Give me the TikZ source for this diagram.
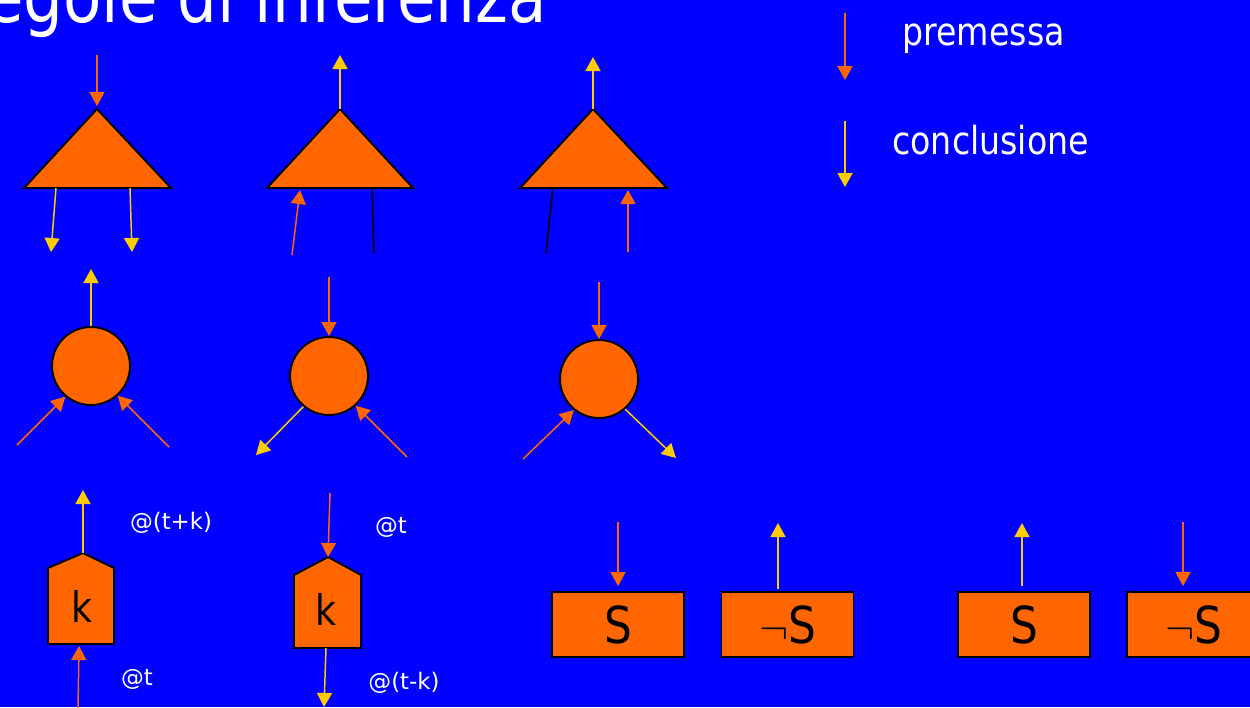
\documentclass[tikz,border=0pt]{standalone}
\usepackage{fontspec}
\usetikzlibrary{arrows.meta}
\newfontfamily\tah[FakeStretch=0.86]{DejaVu Sans}
\newfontfamily\djv{DejaVu Sans}
\definecolor{bg}{HTML}{0000FF}
\definecolor{org}{HTML}{FF6600}
\definecolor{yel}{HTML}{FFCC00}
\begin{document}
\begin{tikzpicture}[x=0.02cm,y=-0.02cm,
  prem/.style={draw=org, line width=0.85pt, -{Triangle[width=0.3cm,length=0.28cm]}, fill=org},
  concl/.style={draw=yel, line width=0.85pt, -{Triangle[width=0.3cm,length=0.28cm]}, fill=yel},
  blk/.style={draw=black, line width=0.9pt},
  shp/.style={fill=org, draw=black, line width=1.1pt, line join=miter},
  circ/.style={shp, circle, minimum size=1.56cm, inner sep=0pt},
  sbox/.style={shp, rectangle, minimum width=2.64cm, minimum height=1.3cm, inner sep=0pt, font=\tah\fontsize{29pt}{30pt}\selectfont, text=black},
  klab/.style={inner sep=0pt, font=\tah\fontsize{24pt}{25pt}\selectfont, text=black},
  lgd/.style={inner sep=0pt, text=white, font=\tah\fontsize{22pt}{24pt}\selectfont},
  small/.style={inner sep=0pt, text=white, font=\djv\fontsize{13pt}{14pt}\selectfont}]
\useasboundingbox (0,0) rectangle (1250,707);
\clip (0,0) rectangle (1250,707);
\fill[bg] (0,0) rectangle (1250,707);

% title
\node[inner sep=0pt, anchor=base east, text=white, font=\tah\fontsize{41.5pt}{43pt}\selectfont] (title) at (547,22) {Regole di inferenza};

% legend
\coordinate (lp1) at (845,13); \coordinate (lp2) at (845,80);
\draw[prem] (lp1) -- (lp2);
\node[lgd, anchor=base west] (tprem) at (902,45) {premessa};
\coordinate (lc1) at (845,121); \coordinate (lc2) at (845,187);
\draw[concl] (lc1) -- (lc2);
\node[lgd, anchor=base west] (tconc) at (892,154) {conclusione};

% triangle 1
\coordinate (t1l) at (24,188); \coordinate (t1r) at (171,188); \coordinate (t1a) at (97,109);
\draw[shp] (t1l) -- (t1r) -- (t1a) -- cycle;
\coordinate (t1in) at (97,55); \coordinate (t1tip) at (97,106);
\draw[prem] (t1in) -- (t1tip);
\coordinate (t1o1s) at (56,188); \coordinate (t1o1) at (51,252);
\coordinate (t1o2s) at (130,188); \coordinate (t1o2) at (132,252);
\draw[concl] (t1o1s) -- (t1o1);
\draw[concl] (t1o2s) -- (t1o2);

% triangle 2
\coordinate (t2l) at (267,188); \coordinate (t2r) at (413,188); \coordinate (t2a) at (340,109);
\draw[shp] (t2l) -- (t2r) -- (t2a) -- cycle;
\coordinate (t2out) at (340,55);
\draw[concl] (t2a) -- (t2out);
\coordinate (t2ins) at (292,255); \coordinate (t2in) at (300,190);
\draw[prem] (t2ins) -- (t2in);
\coordinate (t2bs) at (372,188); \coordinate (t2be) at (374,253);
\draw[blk] (t2bs) -- (t2be);

% triangle 3
\coordinate (t3l) at (520,188); \coordinate (t3r) at (667,188); \coordinate (t3a) at (593,109);
\draw[shp] (t3l) -- (t3r) -- (t3a) -- cycle;
\coordinate (t3out) at (593,57);
\draw[concl] (t3a) -- (t3out);
\coordinate (t3bs) at (553,188); \coordinate (t3be) at (546,253);
\draw[blk] (t3bs) -- (t3be);
\coordinate (t3ins) at (628,252); \coordinate (t3in) at (628,190);
\draw[prem] (t3ins) -- (t3in);

% circles
\node[circ] (c1) at (91,366) {};
\node[circ] (c2) at (329,376) {};
\node[circ] (c3) at (599,379) {};
\coordinate (c1o) at (91,269);
\draw[concl] (c1.north) -- (c1o);
\coordinate (c1a) at (17,445); \coordinate (c1b) at (169,447);
\draw[prem] (c1a) -- (c1.230);
\draw[prem] (c1b) -- (c1.312);

\coordinate (c2i) at (329,277);
\draw[prem] (c2i) -- (c2.north);
\coordinate (c2o) at (256,455);
\draw[concl] (c2.230) -- (c2o);
\coordinate (c2b) at (407,457);
\draw[prem] (c2b) -- (c2.312);

\coordinate (c3i) at (599,282);
\draw[prem] (c3i) -- (c3.north);
\coordinate (c3a) at (523,459);
\draw[prem] (c3a) -- (c3.231);
\coordinate (c3o) at (676,458);
\draw[concl] (c3.311) -- (c3o);

% delay pentagon 1
\draw[shp] (48,644) -- (114,644) -- (114,568) -- (83,553) -- (48,568) -- cycle;
\node[klab] (k1) at (82,606) {k};
\coordinate (p1top) at (83,553); \coordinate (p1out) at (83,490);
\draw[concl] (p1top) -- (p1out);
\coordinate (p1ins) at (78,710); \coordinate (p1in) at (79,646);
\draw[prem] (p1ins) -- (p1in);
\node[small] (l1) at (171,523) {@(t+k)};
\node[small] (l2) at (137,679) {@t};

% delay pentagon 2
\draw[shp] (294,648) -- (361,648) -- (361,575) -- (328,557) -- (294,575) -- cycle;
\node[klab] (k2) at (326,609) {k};
\coordinate (p2ins) at (330,493); \coordinate (p2in) at (328,557);
\draw[prem] (p2ins) -- (p2in);
\coordinate (p2outs) at (326,648); \coordinate (p2out) at (324,707);
\draw[concl] (p2outs) -- (p2out);
\node[small] (l3) at (391,527) {@t};
\node[small] (l4) at (404,683) {@(t-k)};

% S boxes
\node[sbox] (s1) at (618,624.5) {S};
\node[sbox] (s2) at (787.5,624.5) {$\neg$S};
\node[sbox] (s3) at (1024,624.5) {S};
\node[sbox, minimum width=2.66cm] (s4) at (1193.5,624.5) {$\neg$S};
\coordinate (a1) at (618,522);
\draw[prem, shorten >=0.1cm] (a1) -- (a1 |- s1.north);
\coordinate (a2) at (778,523);
\draw[concl] (a2 |- s2.north) ++(0,-2) -- (a2);
\coordinate (a3) at (1022,523);
\draw[concl, shorten <=0.1cm] (a3 |- s3.north) -- (a3);
\coordinate (a4) at (1183,522);
\draw[prem, shorten >=0.1cm] (a4) -- (a4 |- s4.north);
\end{tikzpicture}
\end{document}
